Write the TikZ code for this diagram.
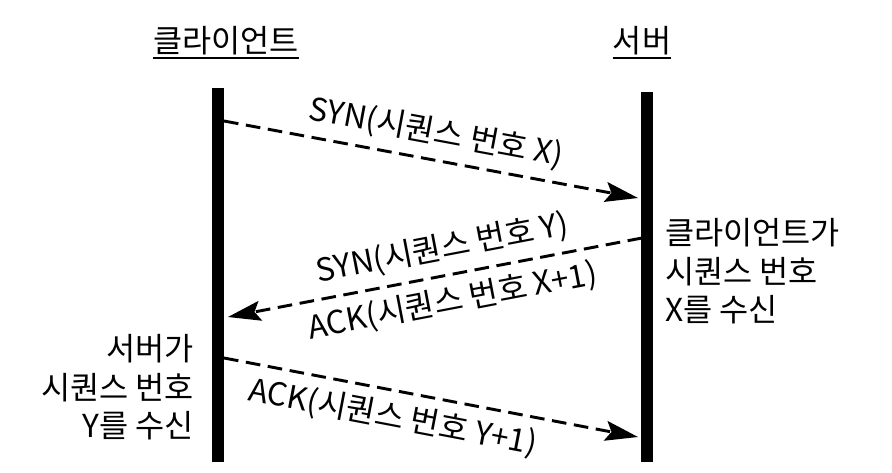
\documentclass[tikz,border=0pt]{standalone}
\usepackage{fontspec}
\newfontfamily\kr{Noto Sans CJK KR}
\usetikzlibrary{arrows.meta, positioning}

\begin{document}
\begin{tikzpicture}[x=0.03cm,y=-0.03cm,
  every node/.style={font=\kr\fontsize{27}{33}\selectfont, inner sep=0pt},
  lifeline/.style={line width=9.5pt},
  msg/.style={line width=2.5pt, dash pattern=on 12.5pt off 6.5pt,
    -{Stealth[length=28pt,width=17pt,inset=5pt]}},
  lbl/.style={sloped, inner sep=8pt}]
\useasboundingbox (0,0) rectangle (892,472);

%lifelines
\draw[lifeline] (218,88) -- (218,462);
\draw[lifeline] (647,92) -- (647,462);

%headings
\node[anchor=base] (client) at (226,52) {클라이언트};
\node[anchor=base] (server) at (642,52) {서버};
\draw[line width=1.2pt] ([yshift=-5pt]client.base west) -- ([yshift=-5pt]client.base east);
\draw[line width=1.2pt] ([yshift=-5pt]server.base west) -- ([yshift=-5pt]server.base east);

%message ends
\coordinate (c1) at (224,121);
\coordinate (s1) at (638,198);
\coordinate (s2) at (642,238);
\coordinate (c2) at (228,317);
\coordinate (c3) at (224,358);
\coordinate (s3) at (638,437);

%messages
\draw[msg] (c1) -- node[lbl, pos=0.5, above] (syn) {SYN(시퀀스 번호 X)} (s1);
\draw[msg] (s2) -- node[lbl, pos=0.47, above] (synack) {SYN(시퀀스 번호 Y)}
  node[lbl, pos=0.47, below] (ack1) {ACK(시퀀스 번호 X+1)} (c2);
\draw[msg] (c3) -- node[lbl, pos=0.42, below] (ack2) {ACK(시퀀스 번호 Y+1)} (s3);

%receive notes
\node[align=left, anchor=north west] (cliRecv) at (665,218) {클라이언트가\\시퀀스 번호\\X를 수신};
\node[align=right, anchor=north east] (srvRecv) at (194,334) {서버가\\시퀀스 번호\\Y를 수신};
\end{tikzpicture}
\end{document}
